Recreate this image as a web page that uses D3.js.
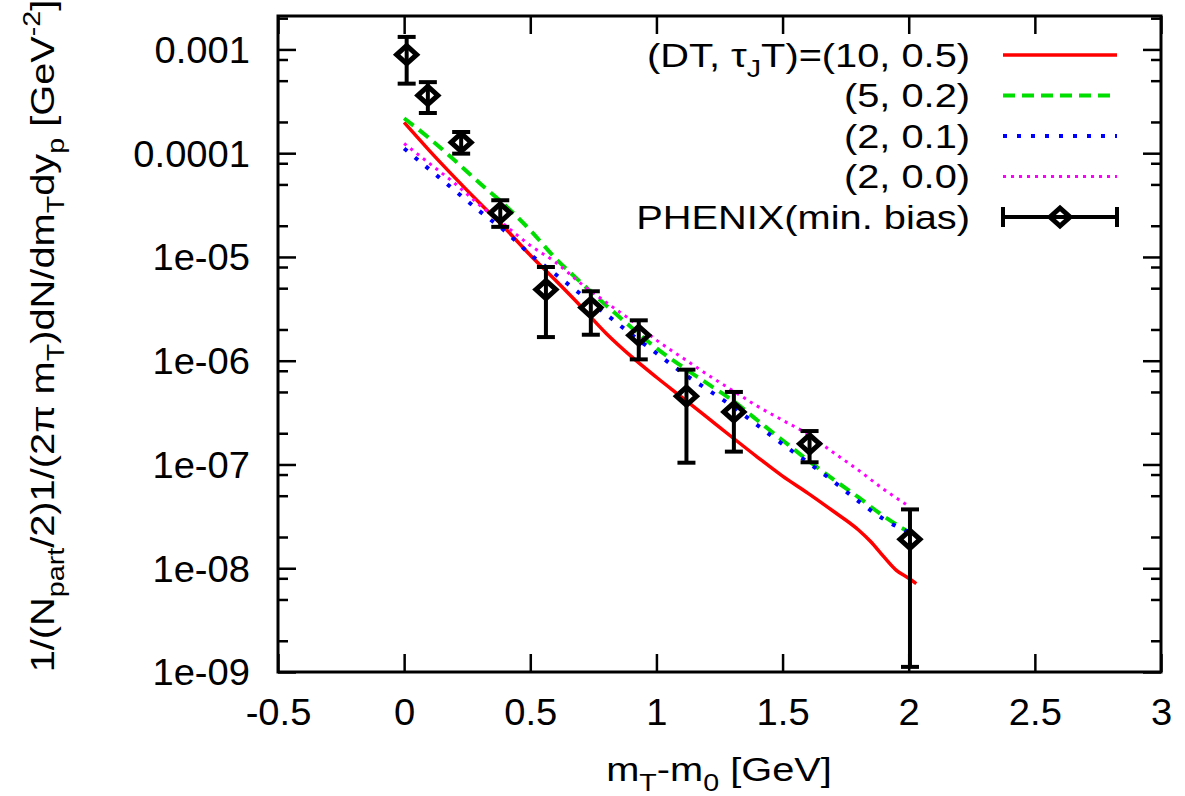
<!DOCTYPE html>
<html>
<head>
<meta charset="utf-8">
<script src="https://cdn.jsdelivr.net/npm/d3@7"></script>
<style>
  body { margin: 0; background: #fff; }
  svg { font-family: "Liberation Sans", Arial, Helvetica, sans-serif; }
</style>
</head>
<body>
<div id="chart"></div>
<script>
// ---- data ----
const xTicks = [-0.5, 0, 0.5, 1, 1.5, 2, 2.5, 3];
const yTicks = [1e-9, 1e-8, 1e-7, 1e-6, 1e-5, 1e-4, 1e-3];
const yTickLabels = ["1e-09", "1e-08", "1e-07", "1e-06", "1e-05", "0.0001", "0.001"];
const yMinorFactors = [2, 5, 8];

// model curves, m_T - m_0 [GeV]
const mT = [0, 0.1, 0.2, 0.3, 0.4, 0.5, 0.6, 0.7, 0.8, 0.9, 1.0,
            1.1, 1.2, 1.3, 1.4, 1.5, 1.6, 1.7, 1.8, 1.9, 2.0];
const mTRed = [0, 0.1, 0.2, 0.3, 0.4, 0.5, 0.6, 0.7, 0.8, 0.9, 1.0,
               1.1, 1.2, 1.3, 1.4, 1.5, 1.6, 1.7, 1.8, 1.85, 1.9, 1.95, 2.0, 2.03];
const dt10 = [1.98e-4, 1.06e-4, 5.85e-5, 3.29e-5, 1.89e-5, 1.04e-5, 5.95e-6, 3.35e-6, 1.84e-6, 1.10e-6, 6.93e-7,
              4.46e-7, 2.86e-7, 1.83e-7, 1.18e-7, 7.72e-8, 5.30e-8, 3.56e-8, 2.35e-8, 1.80e-8, 1.30e-8, 9.6e-9, 8.0e-9, 7.1e-9];
const dt5 = [2.17e-4, 1.39e-4, 8.53e-5, 5.13e-5, 3.15e-5, 1.81e-5, 9.70e-6, 5.70e-6, 3.43e-6, 2.10e-6, 1.32e-6,
             8.85e-7, 6.07e-7, 4.17e-7, 2.67e-7, 1.71e-7, 1.10e-7, 7.23e-8, 4.84e-8, 3.18e-8, 2.23e-8];
const dt2a = [1.11e-4, 6.98e-5, 4.39e-5, 2.75e-5, 1.77e-5, 1.06e-5, 6.81e-6, 4.38e-6, 2.81e-6, 1.80e-6, 1.18e-6,
              7.74e-7, 5.32e-7, 3.65e-7, 2.39e-7, 1.57e-7, 1.05e-7, 6.92e-8, 4.44e-8, 2.98e-8, 2.23e-8];
const dt2b = [1.24e-4, 7.98e-5, 5.13e-5, 3.15e-5, 2.02e-5, 1.29e-5, 8.89e-6, 5.57e-6, 3.66e-6, 2.45e-6, 1.58e-6,
              1.08e-6, 7.41e-7, 5.20e-7, 3.65e-7, 2.67e-7, 1.96e-7, 1.31e-7, 8.83e-8, 5.79e-8, 3.97e-8];

// PHENIX (min. bias) points
const phenixX  = [0.01, 0.094, 0.226, 0.381, 0.562, 0.74, 0.93, 1.119, 1.307, 1.607, 2.005];
const phenixY  = [8.9e-4, 3.6e-4, 1.27e-4, 2.66e-5, 4.85e-6, 3.25e-6, 1.76e-6, 4.55e-7, 3.21e-7, 1.58e-7, 1.9e-8];
const phenixHi = [1.32e-3, 4.84e-4, 1.6e-4, 3.52e-5, 8.0e-6, 4.67e-6, 2.45e-6, 8.2e-7, 5.0e-7, 2.1e-7, 3.69e-8];
const phenixLo = [4.68e-4, 2.44e-4, 9.9e-5, 1.95e-5, 1.69e-6, 1.78e-6, 1.03e-6, 1.04e-7, 1.33e-7, 1.05e-7, 1.12e-9];

// ---- layout ----
const W = 1185, H = 796;
const margin = {top: 16, right: 24, bottom: 124, left: 278};
const width = W - margin.left - margin.right,
      height = H - margin.top - margin.bottom;
const FS = 36, SX = 1.06;      // tick labels
const LFS = 34, LSX = 1.17;    // legend and titles

const svg = d3.select("#chart").append("svg")
    .attr("width", W)
    .attr("height", H);
const g = svg.append("g")
    .attr("transform", `translate(${margin.left},${margin.top})`);

const x = d3.scaleLinear().domain([-0.5, 3]).range([0, width]);
const y = d3.scaleLog().domain([1e-9, 2.1e-3]).range([height, 0]);

// minor ticks on the log axis
const yMinor = [];
yTicks.forEach(t => yMinorFactors.forEach(f => {
    const v = t * f;
    if (v < y.domain()[1]) yMinor.push(v);
}));

function styleAxis(sel) {
    sel.select(".domain").remove();
    sel.selectAll(".tick line").attr("stroke", "#000").attr("stroke-width", 2.5);
    sel.selectAll("text").attr("fill", "#000");
}

// bottom axis with labels
g.append("g")
    .attr("transform", `translate(0,${height})`)
    .call(d3.axisBottom(x).tickValues(xTicks).tickSize(-18).tickPadding(27)
        .tickFormat(d => String(d)))
    .call(styleAxis)
    .call(s => s.selectAll("text")
        .attr("font-size", FS)
        .attr("transform", `scale(${SX},1)`));

// top axis mirror ticks
g.append("g")
    .call(d3.axisTop(x).tickValues(xTicks).tickSize(-18).tickFormat(""))
    .call(styleAxis);

// left axis with labels
g.append("g")
    .call(d3.axisLeft(y).tickValues(yTicks).tickSize(-18).tickPadding(28)
        .tickFormat((d, i) => yTickLabels[i]))
    .call(styleAxis)
    .call(s => s.selectAll("text")
        .attr("font-size", FS)
        .attr("x", -28 / SX)
        .attr("dy", "0.36em")
        .attr("transform", `scale(${SX},1)`));
g.append("g")
    .call(d3.axisLeft(y).tickValues(yMinor).tickSize(-10).tickFormat(""))
    .call(styleAxis);

// right axis mirror ticks
g.append("g")
    .attr("transform", `translate(${width},0)`)
    .call(d3.axisRight(y).tickValues(yTicks).tickSize(-18).tickFormat(""))
    .call(styleAxis);
g.append("g")
    .attr("transform", `translate(${width},0)`)
    .call(d3.axisRight(y).tickValues(yMinor).tickSize(-10).tickFormat(""))
    .call(styleAxis);

// frame
g.append("rect")
    .attr("width", width)
    .attr("height", height)
    .attr("fill", "none")
    .attr("stroke", "#000")
    .attr("stroke-width", 3);

// ---- curves ----
const line = d3.line().x(d => x(d[0])).y(d => y(d[1])).curve(d3.curveMonotoneX);
const series = [
    {xs: mTRed, ys: dt10, color: "#ff0000", w: 3.5, dash: null},
    {xs: mT, ys: dt5,  color: "#00dd00", w: 4, dash: "12,7"},
    {xs: mT, ys: dt2a, color: "#0000ff", w: 4, dash: "4,10"},
    {xs: mT, ys: dt2b, color: "#ff00ff", w: 3, dash: "3,5"}
];
series.forEach(s => {
    g.append("path")
        .datum(s.xs.map((v, i) => [v, s.ys[i]]))
        .attr("d", line)
        .attr("fill", "none")
        .attr("stroke", s.color)
        .attr("stroke-width", s.w)
        .attr("stroke-dasharray", s.dash);
});

// ---- PHENIX points with error bars ----
const pts = phenixX.map((v, i) => ({x: v, y: phenixY[i], lo: phenixLo[i], hi: phenixHi[i]}));
const diamond = (cx, cy) => `M${cx - 10},${cy}L${cx},${cy - 9}L${cx + 10},${cy}L${cx},${cy + 9}Z`;

const pg = g.append("g").attr("stroke", "#000").attr("fill", "none");
pg.selectAll(".bar").data(pts).enter().append("line")
    .attr("x1", d => x(d.x)).attr("x2", d => x(d.x))
    .attr("y1", d => y(d.lo)).attr("y2", d => y(d.hi))
    .attr("stroke-width", 4);
pg.selectAll(".capHi").data(pts).enter().append("line")
    .attr("x1", d => x(d.x) - 9).attr("x2", d => x(d.x) + 9)
    .attr("y1", d => y(d.hi)).attr("y2", d => y(d.hi))
    .attr("stroke-width", 4);
pg.selectAll(".capLo").data(pts).enter().append("line")
    .attr("x1", d => x(d.x) - 9).attr("x2", d => x(d.x) + 9)
    .attr("y1", d => y(d.lo)).attr("y2", d => y(d.lo))
    .attr("stroke-width", 4);
pg.selectAll(".pt").data(pts).enter().append("path")
    .attr("d", d => diamond(x(d.x), y(d.y)))
    .attr("stroke-width", 5)
    .attr("stroke-linejoin", "miter");

// ---- rich text helper (sub/superscripts) ----
function richText(parent, parts, fs) {
    const t = parent.append("text").attr("font-size", fs).attr("fill", "#000");
    let shift = 0;
    parts.forEach(p => {
        const txt = typeof p === "string" ? p : p[0];
        const kind = typeof p === "string" ? "" : p[1];
        const target = kind === "sub" ? fs * 0.3 : kind === "sup" ? -fs * 0.42 : 0;
        const ts = t.append("tspan").text(txt).attr("dy", target - shift);
        if (kind) ts.attr("font-size", fs * 0.72);
        shift = target;
    });
    return t;
}

// ---- legend ----
const legend = [
    {parts: ["(DT, τ", ["J", "sub"], "T)=(10, 0.5)"], s: series[0]},
    {parts: ["(5, 0.2)"], s: series[1]},
    {parts: ["(2, 0.1)"], s: series[2]},
    {parts: ["(2, 0.0)"], s: series[3]},
    {parts: ["PHENIX(min. bias)"], s: null}
];
const legX = 970, legY0 = 55, legDy = 40.5, sampX1 = 1003, sampX2 = 1117;
legend.forEach((L, i) => {
    const cy = legY0 + i * legDy;
    const tg = svg.append("g").attr("transform", `translate(${legX},${cy + LFS * 0.35}) scale(${LSX},1)`);
    richText(tg, L.parts, LFS).attr("text-anchor", "end");
    if (L.s) {
        svg.append("line")
            .attr("x1", sampX1).attr("x2", sampX2).attr("y1", cy).attr("y2", cy)
            .attr("stroke", L.s.color).attr("stroke-width", L.s.w)
            .attr("stroke-dasharray", L.s.dash);
    } else {
        const lg = svg.append("g").attr("stroke", "#000").attr("fill", "none").attr("stroke-width", 4);
        lg.append("line").attr("x1", sampX1).attr("x2", sampX2).attr("y1", cy).attr("y2", cy);
        lg.append("line").attr("x1", sampX1).attr("x2", sampX1).attr("y1", cy - 10).attr("y2", cy + 10);
        lg.append("line").attr("x1", sampX2).attr("x2", sampX2).attr("y1", cy - 10).attr("y2", cy + 10);
        lg.append("path").attr("d", diamond((sampX1 + sampX2) / 2, cy)).attr("stroke-width", 5);
    }
});

// ---- axis titles ----
const xt = svg.append("g").attr("transform", `translate(719,781) scale(${LSX},1)`);
richText(xt, ["m", ["T", "sub"], "-m", ["0", "sub"], " [GeV]"], LFS).attr("text-anchor", "middle");

const yt = svg.append("g").attr("transform", `translate(54,336) rotate(-90) scale(${LSX},1)`);
richText(yt, ["1/(N", ["part", "sub"], "/2)1/(2π m", ["T", "sub"], ")dN/dm", ["T", "sub"], "dy", ["p", "sub"],
              " [GeV", ["-2", "sup"], "]"], LFS).attr("text-anchor", "middle");
</script>
</body>
</html>
